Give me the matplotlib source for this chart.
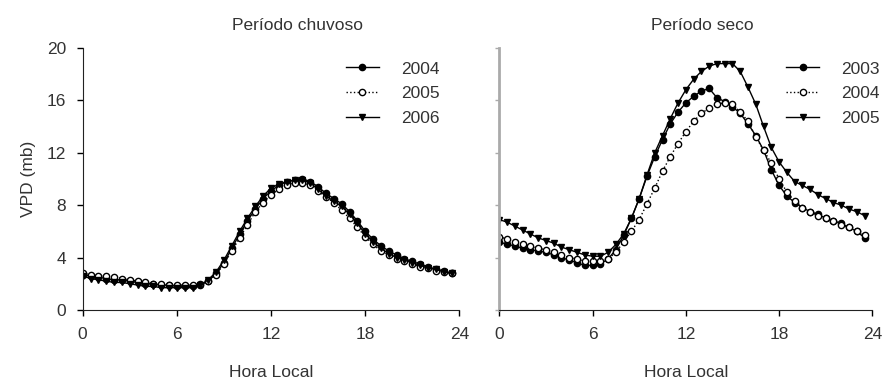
""" VPD diurnal cycle, wet and dry periods
"""
import numpy as np
from matplotlib import pyplot as plt

plt.rcParams['font.family'] = ['Liberation Sans', 'DejaVu Sans']

# Half-hourly local time
hora = np.arange(0, 24, 0.5)

# Periodo chuvoso
chuv_2004 = [2.7, 2.6, 2.5, 2.4, 2.3, 2.3, 2.2, 2.1, 2.0, 2.0, 1.9, 1.9,
             1.8, 1.8, 1.8, 1.9, 2.2, 2.8, 3.6, 4.7, 5.8, 6.8, 7.7, 8.5,
             9.1, 9.5, 9.8, 9.9, 10.0, 9.8, 9.4, 8.9, 8.5, 8.1, 7.5, 6.8,
             6.0, 5.4, 4.9, 4.5, 4.2, 3.9, 3.7, 3.5, 3.3, 3.1, 3.0, 2.8]
chuv_2005 = [2.8, 2.7, 2.6, 2.6, 2.5, 2.4, 2.3, 2.2, 2.1, 2.0, 2.0, 1.9,
             1.9, 1.9, 1.9, 2.0, 2.2, 2.7, 3.5, 4.5, 5.5, 6.5, 7.5, 8.2,
             8.8, 9.2, 9.5, 9.7, 9.7, 9.5, 9.1, 8.6, 8.2, 7.6, 7.0, 6.3,
             5.6, 5.0, 4.5, 4.2, 3.9, 3.7, 3.5, 3.3, 3.2, 3.0, 2.9, 2.8]
chuv_2006 = [2.6, 2.4, 2.3, 2.2, 2.1, 2.1, 2.0, 1.9, 1.8, 1.8, 1.7, 1.7,
             1.7, 1.7, 1.7, 1.9, 2.3, 2.9, 3.8, 4.9, 6.0, 7.0, 7.9, 8.7,
             9.3, 9.6, 9.8, 9.9, 9.9, 9.7, 9.2, 8.7, 8.3, 7.9, 7.3, 6.6,
             5.8, 5.2, 4.7, 4.3, 4.0, 3.8, 3.6, 3.4, 3.2, 3.1, 2.9, 2.8]

# Periodo seco
seco_2003 = [5.2, 5.0, 4.9, 4.7, 4.6, 4.5, 4.4, 4.2, 4.0, 3.8, 3.6, 3.4,
             3.4, 3.5, 3.9, 4.6, 5.7, 7.0, 8.5, 10.2, 11.7, 13.0, 14.2, 15.1,
             15.8, 16.3, 16.7, 16.9, 16.2, 15.9, 15.5, 15.0, 14.2, 13.3, 12.2, 10.7,
             9.5, 8.7, 8.2, 7.8, 7.5, 7.3, 7.0, 6.8, 6.6, 6.3, 6.0, 5.5]
seco_2004 = [5.6, 5.4, 5.2, 5.0, 4.9, 4.7, 4.6, 4.4, 4.2, 4.0, 3.9, 3.7,
             3.7, 3.7, 3.9, 4.4, 5.2, 6.0, 6.9, 8.1, 9.3, 10.6, 11.7, 12.7,
             13.6, 14.4, 15.0, 15.4, 15.7, 15.8, 15.7, 15.1, 14.4, 13.2, 12.2, 11.2,
             10.0, 9.0, 8.3, 7.8, 7.5, 7.2, 7.0, 6.8, 6.5, 6.3, 6.0, 5.7]
seco_2005 = [6.9, 6.7, 6.4, 6.1, 5.8, 5.5, 5.3, 5.1, 4.8, 4.6, 4.4, 4.2,
             4.1, 4.1, 4.4, 5.0, 5.8, 7.0, 8.5, 10.3, 12.0, 13.3, 14.6, 15.8,
             16.8, 17.6, 18.2, 18.6, 18.8, 18.8, 18.8, 18.2, 17.0, 15.7, 14.0, 12.4,
             11.3, 10.5, 9.8, 9.5, 9.2, 8.8, 8.5, 8.2, 8.0, 7.7, 7.5, 7.2]

xticks = [0, 6, 12, 18, 24]
yticks = [0, 4, 8, 12, 16, 20]

txtclr = '#333333'
fsize = 12.5

fig = plt.figure(figsize=(8.85, 3.81), dpi=100)
ax1 = fig.add_axes([0.0934, 0.1864, 0.4257, 0.688])
ax2 = fig.add_axes([0.5642, 0.1864, 0.4215, 0.688])

styles = [dict(marker='o', ls='-', mfc='k', mec='k'),
          dict(marker='o', ls=':', mfc='white', mec='k'),
          dict(marker='v', ls='-', mfc='k', mec='k')]

def draw(ax, series, labels, title, tx, legx):
    for yy, lbl, st in zip(series, labels, styles):
        ax.plot(hora, yy, color='k', lw=1.0, ms=4.5, mew=1.0, label=lbl, **st)
    ax.set_xlim(0, 24)
    ax.set_ylim(0, 20)
    ax.set_xticks(xticks)
    ax.set_yticks(yticks)
    ax.spines['top'].set_visible(False)
    ax.spines['right'].set_visible(False)
    ax.tick_params(direction='out', length=4, width=1, labelsize=fsize,
                   labelcolor=txtclr, pad=8)
    ax.set_xlabel('Hora Local', fontsize=fsize, color=txtclr, labelpad=17)
    ax.text(tx, 1.087, title, transform=ax.transAxes, ha='center', va='center',
            fontsize=fsize, color=txtclr)
    leg = ax.legend(loc='upper left', bbox_to_anchor=(legx, 0.975), frameon=False,
                    fontsize=fsize, handlelength=1.9, handletextpad=1.3,
                    labelspacing=0.55, borderaxespad=0.)
    for t in leg.get_texts():
        t.set_color(txtclr)

draw(ax1, [chuv_2004, chuv_2005, chuv_2006], ['2004', '2005', '2006'],
     'Período chuvoso', 0.57, 0.68)
draw(ax2, [seco_2003, seco_2004, seco_2005], ['2003', '2004', '2005'],
     'Período seco', 0.545, 0.75)

ax1.set_ylabel('VPD (mb)', fontsize=fsize, color=txtclr, labelpad=8)
for sp in ['left', 'bottom']:
    ax1.spines[sp].set_color('#222222')
ax2.spines['bottom'].set_color('#222222')
ax2.spines['left'].set_color('#aaaaaa')
ax2.spines['left'].set_linewidth(2)
ax2.tick_params(axis='y', labelleft=False, color='#aaaaaa', length=3)

fig.savefig('out.png', dpi=100)
plt.close()
